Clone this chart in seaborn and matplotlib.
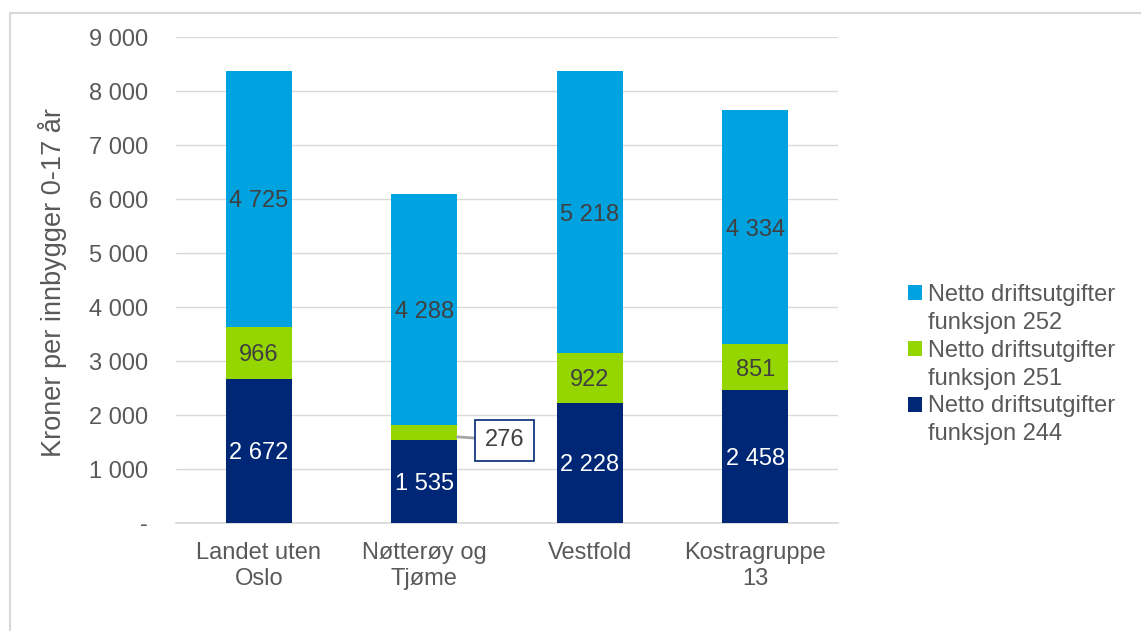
import matplotlib
matplotlib.use("Agg")
import matplotlib.pyplot as plt
import numpy as np
import pandas as pd
import seaborn as sns
from matplotlib.patches import Rectangle
from matplotlib.ticker import FuncFormatter

categories = ["Landet uten\nOslo", "Nøtterøy og\nTjøme", "Vestfold", "Kostragruppe\n13"]
funksjon_244 = [2672, 1535, 2228, 2458]
funksjon_251 = [966, 276, 922, 851]
funksjon_252 = [4725, 4288, 5218, 4334]
series_names = [
    "Netto driftsutgifter\nfunksjon 244",
    "Netto driftsutgifter\nfunksjon 251",
    "Netto driftsutgifter\nfunksjon 252",
]
colors = ["#002776", "#95D600", "#00A3E0"]
ylabel = "Kroner per innbygger 0-17 år"

sns.set_theme(style="white")
plt.rcParams["font.family"] = ["Liberation Sans", "DejaVu Sans"]
text_grey = "#595959"

df = pd.DataFrame({
    "kategori": categories,
    "f244": funksjon_244,
    "f251": funksjon_251,
    "f252": funksjon_252,
})
df["top244"] = df["f244"]
df["top251"] = df["f244"] + df["f251"]
df["top252"] = df["top251"] + df["f252"]

fig = plt.figure(figsize=(11.41, 6.31), dpi=100)
ax = fig.add_axes([176 / 1141, 1 - 523 / 631, 662 / 1141, 486 / 631])

# stacked bars: draw cumulative totals from the top down
for col, color in zip(["top252", "top251", "top244"], colors[::-1]):
    sns.barplot(data=df, x="kategori", y=col, color=color, width=0.4,
                saturation=1, errorbar=None, linewidth=0, edgecolor="none",
                ax=ax, zorder=3)

ax.set_ylim(0, 9000)
ax.set_yticks(np.arange(0, 9001, 1000))
ax.yaxis.set_major_formatter(FuncFormatter(
    lambda v, _: "-" if v == 0 else f"{int(v):,}".replace(",", " ")))
ax.grid(axis="y", color="#d9d9d9", linewidth=1, zorder=0)
ax.set_axisbelow(True)
for s in ["top", "right", "left"]:
    ax.spines[s].set_visible(False)
ax.spines["bottom"].set_color("#d9d9d9")
ax.tick_params(axis="y", length=0, pad=20, labelsize=17, labelcolor=text_grey)
ax.tick_params(axis="x", length=0, pad=14, labelsize=17, labelcolor=text_grey)
ax.set_xlabel("")
ax.set_ylabel(ylabel, fontsize=19.5, color=text_grey)
ax.yaxis.set_label_coords(-0.165, 0.494)

# data labels
for i, row in df.iterrows():
    ax.text(i, row["f244"] / 2, f"{row['f244']:,}".replace(",", " "),
            ha="center", va="center_baseline", fontsize=17, color="white", zorder=5)
    if i != 1:
        ax.text(i, row["f244"] + row["f251"] / 2, f"{row['f251']:,}".replace(",", " "),
                ha="center", va="center_baseline", fontsize=17, color="#404040", zorder=5)
    ax.text(i, row["top251"] + row["f252"] / 2, f"{row['f252']:,}".replace(",", " "),
            ha="center", va="center_baseline", fontsize=17, color="#404040", zorder=5)

# small segment label moved out with leader line
ax.annotate(str(funksjon_251[1]), xy=(1.2, funksjon_244[1] + 60),
            xytext=(1.485, funksjon_244[1]), ha="center", va="center",
            fontsize=17, color="#404040", zorder=6,
            bbox=dict(boxstyle="square,pad=0.4", fc="white", ec="#002776", lw=1.2),
            arrowprops=dict(arrowstyle="-", color="#a6a6a6", lw=2,
                            shrinkA=0, shrinkB=0))

# legend: first line with swatch, second line without
handles, labels = [], []
for name, color in zip(series_names[::-1], colors[::-1]):
    first, second = name.split("\n")
    handles.append(Rectangle((0, 0), 1, 1, fc=color, ec="none"))
    labels.append(first)
    handles.append(Rectangle((0, 0), 1, 1, fc="none", ec="none"))
    labels.append(second)
leg = fig.legend(handles, labels, loc="upper left",
                 bbox_to_anchor=(896 / 1141, 1 - 272 / 631), frameon=False,
                 fontsize=17, handlelength=0.6, handleheight=0.6,
                 handletextpad=0.25, labelspacing=0.25, borderpad=0)
for t in leg.get_texts():
    t.set_color(text_grey)

# outer chart border
fig.add_artist(Rectangle((10 / 1141, -0.1), 2, 1 - 13 / 631 + 0.1,
                         transform=fig.transFigure, fill=False,
                         edgecolor="#d9d9d9", lw=1.5))

fig.savefig("out.png", dpi=100)
